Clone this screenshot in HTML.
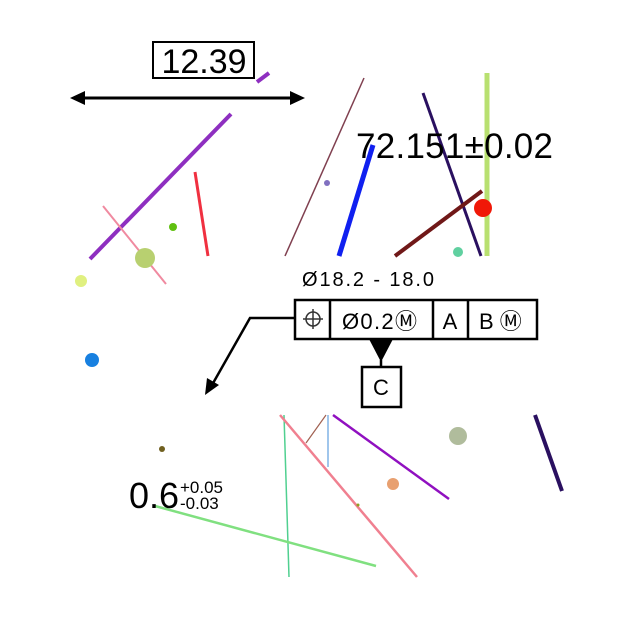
<!DOCTYPE html>
<html><head><meta charset="utf-8"><style>
html,body{margin:0;padding:0;background:#fff;}
svg{display:block;font-family:"Liberation Sans",sans-serif;}
</style></head><body>
<svg id="c" width="640" height="640" viewBox="0 0 640 640">
<g id="marks"></g>
<g>
<rect x="153" y="42" width="101" height="36" fill="#fff" stroke="#000" stroke-width="2"/>
<text x="204" y="73" font-size="34" text-anchor="middle">12.39</text>
<line x1="82" y1="98" x2="293" y2="98" stroke="#000" stroke-width="3"/>
<polygon points="70,98 85,91 85,105" fill="#000"/>
<polygon points="305,98 290,91 290,105" fill="#000"/>
</g>
<text x="356" y="158" font-size="35" textLength="197">72.151±0.02</text>
<text x="302" y="286" font-size="20" textLength="132">Ø18.2 - 18.0</text>
<g>
<polyline points="295,318 250,318 212,385" fill="none" stroke="#000" stroke-width="2.5"/>
<polygon points="205,395 207,378 219,385" fill="#000"/>
<rect x="295" y="300" width="242" height="39" fill="#fff" stroke="#000" stroke-width="2.5"/>
<line x1="330" y1="300" x2="330" y2="339" stroke="#000" stroke-width="2.5"/>
<line x1="433" y1="300" x2="433" y2="339" stroke="#000" stroke-width="2.5"/>
<line x1="468" y1="300" x2="468" y2="339" stroke="#000" stroke-width="2.5"/>
<g stroke="#333" stroke-width="1.5" fill="none"><circle cx="313" cy="319" r="7"/><line x1="303" y1="319" x2="323" y2="319"/><line x1="313" y1="309" x2="313" y2="329"/></g>
<text x="342" y="329" font-size="22" textLength="75">Ø0.2Ⓜ</text>
<text x="450" y="329" font-size="22" text-anchor="middle">A</text>
<text x="479" y="329" font-size="22">B Ⓜ</text>
<polygon points="369,339 393,339 381,362" fill="#000"/>
<line x1="381" y1="360" x2="381" y2="367" stroke="#000" stroke-width="2.5"/>
<rect x="362" y="367" width="39" height="40" fill="#fff" stroke="#000" stroke-width="2.5"/>
<text x="381" y="395" font-size="22" text-anchor="middle">C</text>
</g>
<g>
<text x="129" y="508" font-size="36">0.6</text>
<text x="180" y="493" font-size="17">+0.05</text>
<text x="180" y="509" font-size="17">-0.03</text>
</g>
</svg>
<script>
const lineX1=[90,257,103,195,364,373,423,487,482,284,280,326,328,333,535,155];
const lineY1=[259,82,206,172,78,145,93,73,191,415,415,415,415,415,415,506];
const lineX2=[231,269,166,208,285,339,481,487,395,289,417,306,328,449,562,376];
const lineY2=[114,73,284,256,256,256,256,256,256,577,577,443,467,499,491,566];
const lineColor=["#8e2fc0","#8e2fc0","#f08aa0","#f03040","#804050","#1020f0","#2a1060","#b8e070","#701818","#50d090","#f08090","#a06050","#60a0e0","#9010c0","#2a1060","#80e080"];
const lineW=[4,4,2,3,1.5,5,3,5,4,1.5,2.5,1.2,1.2,2.5,4,2.5];
const dotX=[483,458,173,327,145,81,92,458,393,162,358];
const dotY=[208,252,227,183,258,281,360,436,484,449,505];
const dotR=[9,5,4,3,10,6,7,9,6,3,1.5];
const dotColor=["#f01808","#60d0a0","#60c010","#8070c0","#b8d070","#e0f080","#1880e0","#b0bc9c","#e8a070","#706020","#90a020"];
const g=document.getElementById('marks');
const NS='http://www.w3.org/2000/svg';
for(let i=0;i<lineX1.length;i++){
const l=document.createElementNS(NS,'line');


l.setAttribute('x1',lineX1[i]);l.setAttribute('y1',lineY1[i]);
l.setAttribute('x2',lineX2[i]);l.setAttribute('y2',lineY2[i]);
l.setAttribute('stroke',lineColor[i]);l.setAttribute('stroke-width',lineW[i]);
g.appendChild(l);}
for(let i=0;i<dotX.length;i++){
const c=document.createElementNS(NS,'circle');


c.setAttribute('cx',dotX[i]);c.setAttribute('cy',dotY[i]);c.setAttribute('r',dotR[i]);
c.setAttribute('fill',dotColor[i]);
g.appendChild(c);}
</script>
</body></html>
